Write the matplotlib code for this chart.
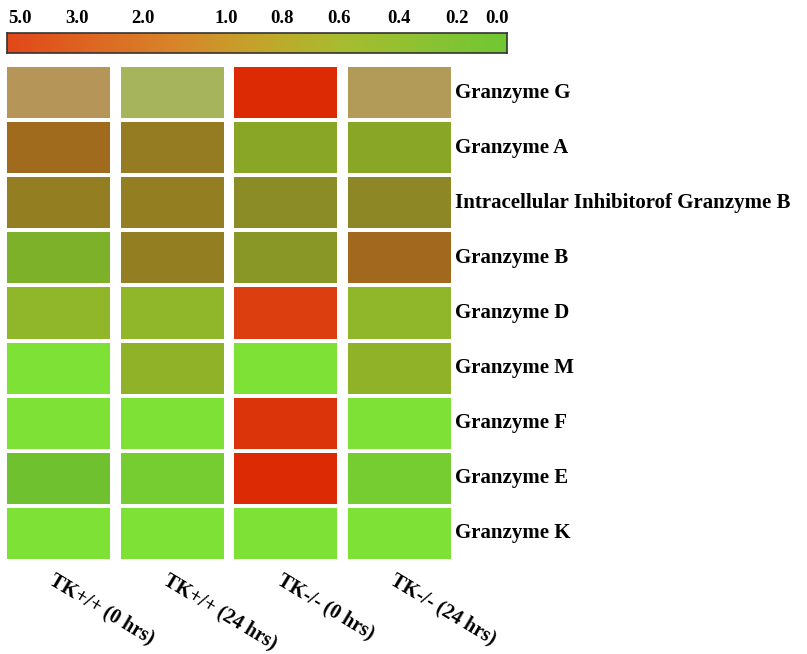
import numpy as np
import matplotlib
matplotlib.use("Agg")
import matplotlib.pyplot as plt
from matplotlib.colors import LinearSegmentedColormap, Normalize
from matplotlib.patches import Rectangle

plt.rcParams['font.family'] = ['Liberation Serif', 'DejaVu Serif']
plt.rcParams['font.weight'] = 'bold'

genes = ["Granzyme G", "Granzyme A", "Intracellular Inhibitorof Granzyme B",
         "Granzyme B", "Granzyme D", "Granzyme M", "Granzyme F",
         "Granzyme E", "Granzyme K"]
samples = ["TK+/+ (0 hrs)", "TK+/+ (24 hrs)", "TK-/- (0 hrs)", "TK-/- (24 hrs)"]

# fold change per gene (rows) and sample (columns)
g_row = [1.6, 0.65, 5.0, 1.3]
a_row = [1.9, 1.1, 0.55, 0.55]
inh_row = [1.0, 1.0, 0.8, 0.85]
b_row = [0.3, 1.0, 0.7, 2.0]
d_row = [0.4, 0.4, 4.0, 0.4]
m_row = [0.0, 0.45, 0.0, 0.45]
f_row = [0.0, 0.0, 4.5, 0.0]
e_row = [0.2, 0.1, 5.0, 0.1]
k_row = [0.0, 0.0, 0.0, 0.0]
values = np.array([g_row, a_row, inh_row, b_row, d_row, m_row, f_row, e_row, k_row])

# cells shown faded (low confidence)
faded = np.zeros_like(values, dtype=bool)
faded[0, [0, 1, 3]] = True

scale_labels = ["5.0", "3.0", "2.0", "1.0", "0.8", "0.6", "0.4", "0.2", "0.0"]
scale_pos = [0.025, 0.139, 0.271, 0.439, 0.549, 0.663, 0.783, 0.899, 0.979]

# colour map for the cells, anchored on fold change
anchors = [(0.0, "#7DE136"), (0.1, "#76CD31"), (0.2, "#70C02F"), (0.3, "#7EB02A"),
           (0.4, "#92B82A"), (0.6, "#87A026"), (0.8, "#8B8A26"), (1.0, "#947E22"),
           (2.0, "#A2691E"), (4.0, "#DC3E10"), (5.0, "#DC2A04")]
cell_cmap = LinearSegmentedColormap.from_list(
    "cells", [(v / 5.0, c) for v, c in anchors])
norm = Normalize(0, 5)

# gradient for the scale bar (high on the left)
bar_cmap = LinearSegmentedColormap.from_list(
    "bar", [(0.0, "#E2481A"), (0.33, "#D8842A"), (0.5, "#C4A42A"),
            (0.67, "#A8BC30"), (1.0, "#70C834")])

fig = plt.figure(figsize=(8.07, 6.54), dpi=100)

ax = fig.add_axes([0.00204, 0.1422, 0.5636, 0.7584])
w, h = 0.906, 0.927
for i in range(values.shape[0]):
    for j in range(values.shape[1]):
        ax.add_patch(Rectangle((j + (1 - w) / 2, i + (1 - h) / 2), w, h,
                               facecolor=cell_cmap(norm(values[i, j])),
                               alpha=0.75 if faded[i, j] else 1.0,
                               edgecolor="none"))
ax.set_xlim(0, values.shape[1])
ax.set_ylim(values.shape[0], 0)
ax.axis("off")

for i, g in enumerate(genes):
    ax.text(3.99, i + 0.5, g, ha="left", va="center", fontsize=15,
            fontweight="bold")

for j, s in enumerate(samples):
    ax.text(j + 0.48, -0.018, s, transform=ax.get_xaxis_transform(),
            ha="left", va="top", rotation=-31, rotation_mode="anchor",
            fontsize=14.5, fontweight="bold")

# scale bar
cax = fig.add_axes([0.00905, 0.919, 0.6192, 0.0306])
cax.imshow(np.linspace(0, 1, 256)[None, :], cmap=bar_cmap, aspect="auto",
           extent=[0, 1, 0, 1])
cax.set_xlim(0, 1)
cax.set_yticks([])
cax.xaxis.tick_top()
cax.set_xticks(scale_pos)
cax.set_xticklabels(scale_labels, fontsize=13.5, fontweight="bold")
cax.tick_params(axis="x", length=0, pad=4)
for sp in cax.spines.values():
    sp.set_color("#333333")
    sp.set_linewidth(1.2)

fig.savefig("out.png", dpi=100)
